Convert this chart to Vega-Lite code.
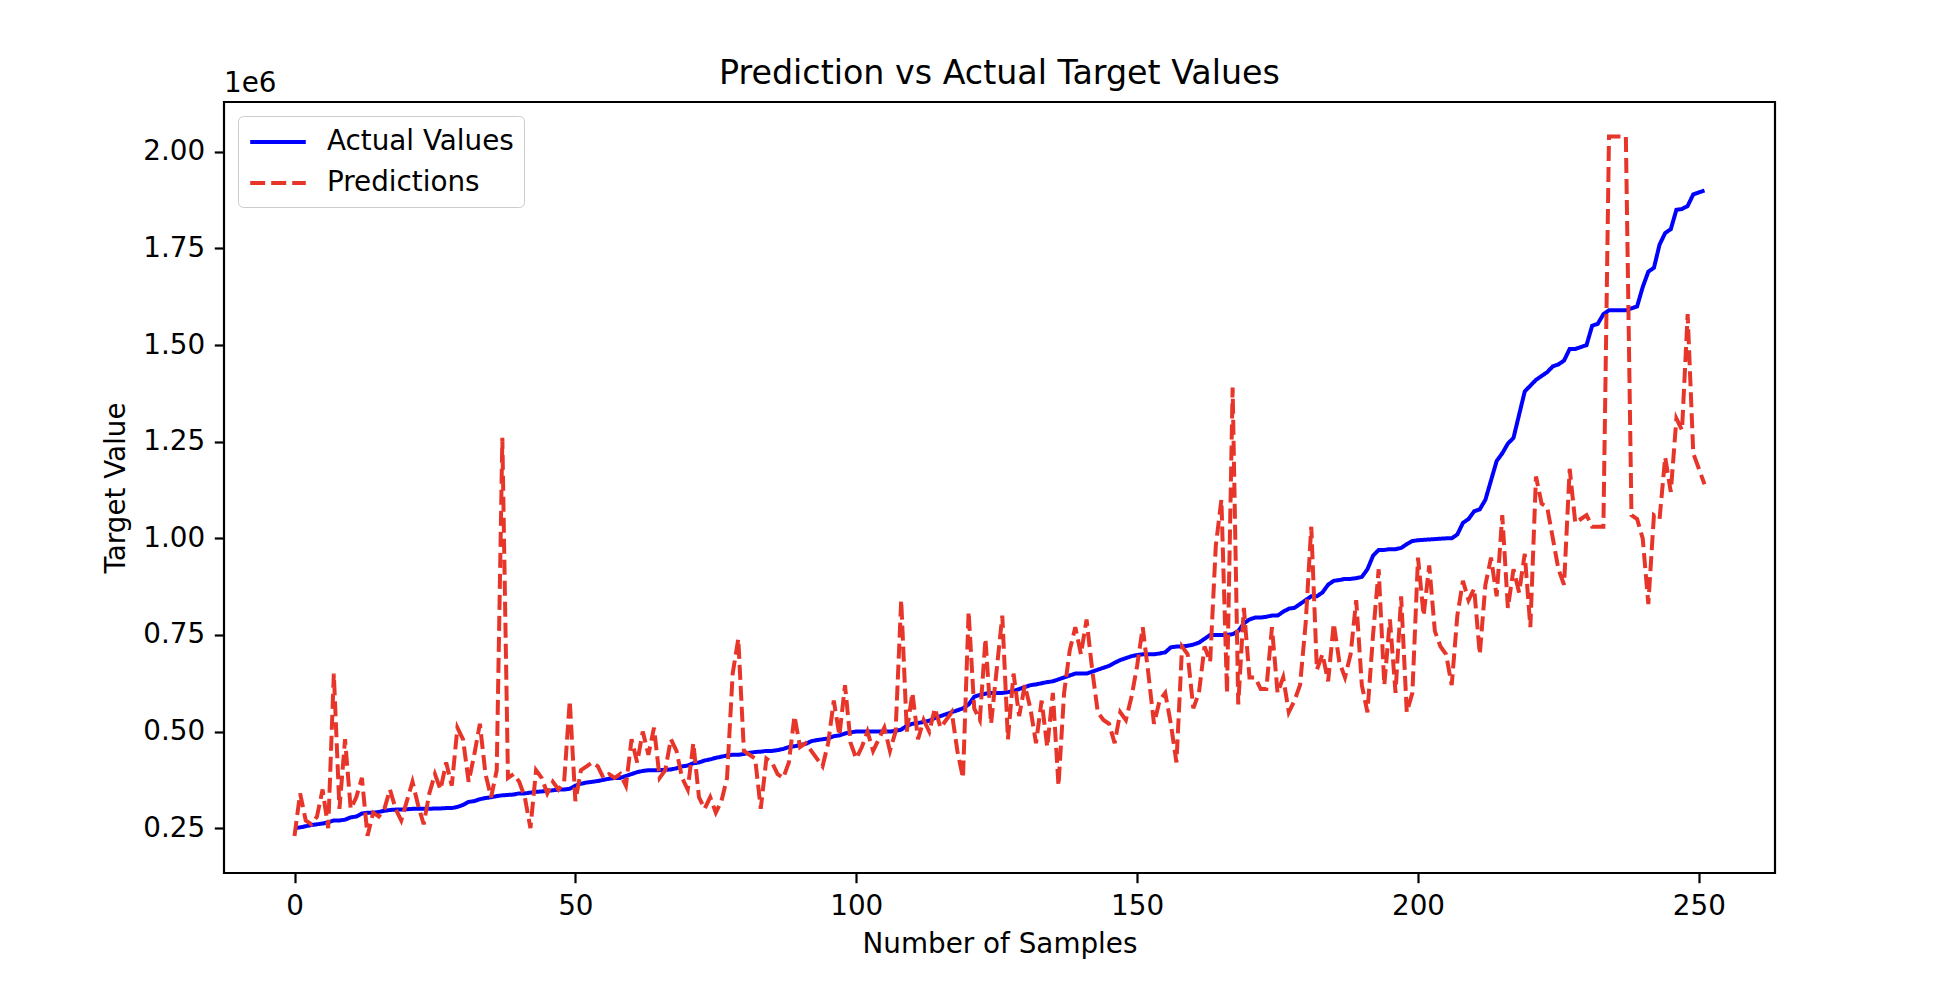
{
  "$schema": "https://vega.github.io/schema/vega-lite/v6.json",
  "autosize": {"type": "none"},
  "padding": {"left": 224, "top": 102, "right": 175, "bottom": 109},
  "width": 1551,
  "height": 771,
  "background": "white",
  "title": {"text": "Prediction vs Actual Target Values", "font": "DejaVu Sans", "fontSize": 33.3, "fontWeight": "normal", "color": "black", "frame": "group", "anchor": "middle", "offset": -21},
  "config": {
    "view": {"stroke": "black", "strokeWidth": 2.2},
    "font": "DejaVu Sans"
  },
  "layer": [
    {
      "data": {"values": [
{"i":0,"Actual Values":250000,"Predictions":230000},
{"i":1,"Actual Values":252000,"Predictions":340000},
{"i":2,"Actual Values":255000,"Predictions":270000},
{"i":3,"Actual Values":258000,"Predictions":260000},
{"i":4,"Actual Values":260000,"Predictions":280000},
{"i":5,"Actual Values":262000,"Predictions":350000},
{"i":6,"Actual Values":265000,"Predictions":250000},
{"i":7,"Actual Values":270000,"Predictions":650000},
{"i":8,"Actual Values":270000,"Predictions":300000},
{"i":9,"Actual Values":272000,"Predictions":480000},
{"i":10,"Actual Values":278000,"Predictions":300000},
{"i":11,"Actual Values":280000,"Predictions":330000},
{"i":12,"Actual Values":288000,"Predictions":380000},
{"i":13,"Actual Values":290000,"Predictions":230000},
{"i":14,"Actual Values":290000,"Predictions":290000},
{"i":15,"Actual Values":292000,"Predictions":280000},
{"i":16,"Actual Values":295000,"Predictions":300000},
{"i":17,"Actual Values":297000,"Predictions":350000},
{"i":18,"Actual Values":298000,"Predictions":300000},
{"i":19,"Actual Values":298000,"Predictions":270000},
{"i":20,"Actual Values":299000,"Predictions":320000},
{"i":21,"Actual Values":300000,"Predictions":370000},
{"i":22,"Actual Values":300000,"Predictions":310000},
{"i":23,"Actual Values":300000,"Predictions":260000},
{"i":24,"Actual Values":300000,"Predictions":340000},
{"i":25,"Actual Values":301000,"Predictions":390000},
{"i":26,"Actual Values":301000,"Predictions":350000},
{"i":27,"Actual Values":302000,"Predictions":420000},
{"i":28,"Actual Values":302000,"Predictions":360000},
{"i":29,"Actual Values":305000,"Predictions":510000},
{"i":30,"Actual Values":310000,"Predictions":480000},
{"i":31,"Actual Values":318000,"Predictions":370000},
{"i":32,"Actual Values":320000,"Predictions":440000},
{"i":33,"Actual Values":325000,"Predictions":520000},
{"i":34,"Actual Values":328000,"Predictions":390000},
{"i":35,"Actual Values":330000,"Predictions":330000},
{"i":36,"Actual Values":333000,"Predictions":400000},
{"i":37,"Actual Values":335000,"Predictions":1260000},
{"i":38,"Actual Values":336000,"Predictions":380000},
{"i":39,"Actual Values":337000,"Predictions":390000},
{"i":40,"Actual Values":340000,"Predictions":370000},
{"i":41,"Actual Values":340000,"Predictions":330000},
{"i":42,"Actual Values":342000,"Predictions":250000},
{"i":43,"Actual Values":344000,"Predictions":400000},
{"i":44,"Actual Values":345000,"Predictions":380000},
{"i":45,"Actual Values":347000,"Predictions":340000},
{"i":46,"Actual Values":348000,"Predictions":370000},
{"i":47,"Actual Values":350000,"Predictions":350000},
{"i":48,"Actual Values":350000,"Predictions":370000},
{"i":49,"Actual Values":352000,"Predictions":580000},
{"i":50,"Actual Values":360000,"Predictions":320000},
{"i":51,"Actual Values":365000,"Predictions":400000},
{"i":52,"Actual Values":368000,"Predictions":410000},
{"i":53,"Actual Values":370000,"Predictions":420000},
{"i":54,"Actual Values":372000,"Predictions":410000},
{"i":55,"Actual Values":375000,"Predictions":380000},
{"i":56,"Actual Values":378000,"Predictions":390000},
{"i":57,"Actual Values":380000,"Predictions":380000},
{"i":58,"Actual Values":380000,"Predictions":390000},
{"i":59,"Actual Values":385000,"Predictions":360000},
{"i":60,"Actual Values":390000,"Predictions":480000},
{"i":61,"Actual Values":395000,"Predictions":420000},
{"i":62,"Actual Values":398000,"Predictions":500000},
{"i":63,"Actual Values":400000,"Predictions":440000},
{"i":64,"Actual Values":400000,"Predictions":510000},
{"i":65,"Actual Values":400000,"Predictions":380000},
{"i":66,"Actual Values":401000,"Predictions":400000},
{"i":67,"Actual Values":402000,"Predictions":480000},
{"i":68,"Actual Values":405000,"Predictions":450000},
{"i":69,"Actual Values":410000,"Predictions":380000},
{"i":70,"Actual Values":412000,"Predictions":350000},
{"i":71,"Actual Values":418000,"Predictions":470000},
{"i":72,"Actual Values":420000,"Predictions":330000},
{"i":73,"Actual Values":425000,"Predictions":300000},
{"i":74,"Actual Values":428000,"Predictions":330000},
{"i":75,"Actual Values":432000,"Predictions":290000},
{"i":76,"Actual Values":435000,"Predictions":320000},
{"i":77,"Actual Values":438000,"Predictions":380000},
{"i":78,"Actual Values":440000,"Predictions":650000},
{"i":79,"Actual Values":440000,"Predictions":740000},
{"i":80,"Actual Values":442000,"Predictions":450000},
{"i":81,"Actual Values":445000,"Predictions":440000},
{"i":82,"Actual Values":447000,"Predictions":430000},
{"i":83,"Actual Values":448000,"Predictions":300000},
{"i":84,"Actual Values":450000,"Predictions":430000},
{"i":85,"Actual Values":450000,"Predictions":420000},
{"i":86,"Actual Values":452000,"Predictions":390000},
{"i":87,"Actual Values":455000,"Predictions":380000},
{"i":88,"Actual Values":460000,"Predictions":420000},
{"i":89,"Actual Values":462000,"Predictions":540000},
{"i":90,"Actual Values":465000,"Predictions":460000},
{"i":91,"Actual Values":468000,"Predictions":470000},
{"i":92,"Actual Values":475000,"Predictions":450000},
{"i":93,"Actual Values":478000,"Predictions":430000},
{"i":94,"Actual Values":480000,"Predictions":410000},
{"i":95,"Actual Values":482000,"Predictions":470000},
{"i":96,"Actual Values":488000,"Predictions":580000},
{"i":97,"Actual Values":490000,"Predictions":490000},
{"i":98,"Actual Values":495000,"Predictions":620000},
{"i":99,"Actual Values":498000,"Predictions":470000},
{"i":100,"Actual Values":500000,"Predictions":430000},
{"i":101,"Actual Values":500000,"Predictions":460000},
{"i":102,"Actual Values":500000,"Predictions":500000},
{"i":103,"Actual Values":500000,"Predictions":450000},
{"i":104,"Actual Values":500000,"Predictions":480000},
{"i":105,"Actual Values":500000,"Predictions":510000},
{"i":106,"Actual Values":500000,"Predictions":450000},
{"i":107,"Actual Values":502000,"Predictions":500000},
{"i":108,"Actual Values":505000,"Predictions":840000},
{"i":109,"Actual Values":515000,"Predictions":500000},
{"i":110,"Actual Values":520000,"Predictions":600000},
{"i":111,"Actual Values":522000,"Predictions":480000},
{"i":112,"Actual Values":525000,"Predictions":530000},
{"i":113,"Actual Values":528000,"Predictions":500000},
{"i":114,"Actual Values":535000,"Predictions":560000},
{"i":115,"Actual Values":540000,"Predictions":510000},
{"i":116,"Actual Values":545000,"Predictions":530000},
{"i":117,"Actual Values":550000,"Predictions":550000},
{"i":118,"Actual Values":555000,"Predictions":450000},
{"i":119,"Actual Values":560000,"Predictions":380000},
{"i":120,"Actual Values":570000,"Predictions":810000},
{"i":121,"Actual Values":590000,"Predictions":560000},
{"i":122,"Actual Values":595000,"Predictions":530000},
{"i":123,"Actual Values":598000,"Predictions":740000},
{"i":124,"Actual Values":600000,"Predictions":520000},
{"i":125,"Actual Values":600000,"Predictions":660000},
{"i":126,"Actual Values":600000,"Predictions":800000},
{"i":127,"Actual Values":602000,"Predictions":480000},
{"i":128,"Actual Values":605000,"Predictions":650000},
{"i":129,"Actual Values":610000,"Predictions":540000},
{"i":130,"Actual Values":615000,"Predictions":620000},
{"i":131,"Actual Values":620000,"Predictions":560000},
{"i":132,"Actual Values":622000,"Predictions":470000},
{"i":133,"Actual Values":625000,"Predictions":580000},
{"i":134,"Actual Values":628000,"Predictions":460000},
{"i":135,"Actual Values":630000,"Predictions":600000},
{"i":136,"Actual Values":635000,"Predictions":360000},
{"i":137,"Actual Values":640000,"Predictions":600000},
{"i":138,"Actual Values":645000,"Predictions":710000},
{"i":139,"Actual Values":650000,"Predictions":770000},
{"i":140,"Actual Values":650000,"Predictions":700000},
{"i":141,"Actual Values":650000,"Predictions":790000},
{"i":142,"Actual Values":655000,"Predictions":660000},
{"i":143,"Actual Values":660000,"Predictions":550000},
{"i":144,"Actual Values":665000,"Predictions":530000},
{"i":145,"Actual Values":670000,"Predictions":520000},
{"i":146,"Actual Values":678000,"Predictions":470000},
{"i":147,"Actual Values":685000,"Predictions":550000},
{"i":148,"Actual Values":690000,"Predictions":530000},
{"i":149,"Actual Values":695000,"Predictions":590000},
{"i":150,"Actual Values":698000,"Predictions":670000},
{"i":151,"Actual Values":700000,"Predictions":770000},
{"i":152,"Actual Values":700000,"Predictions":650000},
{"i":153,"Actual Values":700000,"Predictions":520000},
{"i":154,"Actual Values":702000,"Predictions":580000},
{"i":155,"Actual Values":705000,"Predictions":600000},
{"i":156,"Actual Values":718000,"Predictions":520000},
{"i":157,"Actual Values":720000,"Predictions":420000},
{"i":158,"Actual Values":720000,"Predictions":720000},
{"i":159,"Actual Values":722000,"Predictions":700000},
{"i":160,"Actual Values":725000,"Predictions":560000},
{"i":161,"Actual Values":730000,"Predictions":600000},
{"i":162,"Actual Values":740000,"Predictions":720000},
{"i":163,"Actual Values":750000,"Predictions":680000},
{"i":164,"Actual Values":750000,"Predictions":980000},
{"i":165,"Actual Values":750000,"Predictions":1100000},
{"i":166,"Actual Values":750000,"Predictions":600000},
{"i":167,"Actual Values":752000,"Predictions":1390000},
{"i":168,"Actual Values":760000,"Predictions":570000},
{"i":169,"Actual Values":780000,"Predictions":820000},
{"i":170,"Actual Values":790000,"Predictions":640000},
{"i":171,"Actual Values":795000,"Predictions":640000},
{"i":172,"Actual Values":795000,"Predictions":610000},
{"i":173,"Actual Values":797000,"Predictions":610000},
{"i":174,"Actual Values":800000,"Predictions":770000},
{"i":175,"Actual Values":800000,"Predictions":600000},
{"i":176,"Actual Values":810000,"Predictions":640000},
{"i":177,"Actual Values":818000,"Predictions":550000},
{"i":178,"Actual Values":820000,"Predictions":580000},
{"i":179,"Actual Values":830000,"Predictions":620000},
{"i":180,"Actual Values":840000,"Predictions":780000},
{"i":181,"Actual Values":850000,"Predictions":1030000},
{"i":182,"Actual Values":850000,"Predictions":660000},
{"i":183,"Actual Values":860000,"Predictions":700000},
{"i":184,"Actual Values":880000,"Predictions":630000},
{"i":185,"Actual Values":890000,"Predictions":780000},
{"i":186,"Actual Values":892000,"Predictions":680000},
{"i":187,"Actual Values":895000,"Predictions":640000},
{"i":188,"Actual Values":895000,"Predictions":700000},
{"i":189,"Actual Values":897000,"Predictions":840000},
{"i":190,"Actual Values":900000,"Predictions":620000},
{"i":191,"Actual Values":920000,"Predictions":550000},
{"i":192,"Actual Values":955000,"Predictions":750000},
{"i":193,"Actual Values":970000,"Predictions":920000},
{"i":194,"Actual Values":970000,"Predictions":620000},
{"i":195,"Actual Values":972000,"Predictions":790000},
{"i":196,"Actual Values":972000,"Predictions":600000},
{"i":197,"Actual Values":975000,"Predictions":850000},
{"i":198,"Actual Values":985000,"Predictions":550000},
{"i":199,"Actual Values":993000,"Predictions":600000},
{"i":200,"Actual Values":995000,"Predictions":950000},
{"i":201,"Actual Values":996000,"Predictions":800000},
{"i":202,"Actual Values":997000,"Predictions":930000},
{"i":203,"Actual Values":998000,"Predictions":760000},
{"i":204,"Actual Values":999000,"Predictions":720000},
{"i":205,"Actual Values":1000000,"Predictions":700000},
{"i":206,"Actual Values":1000000,"Predictions":620000},
{"i":207,"Actual Values":1010000,"Predictions":800000},
{"i":208,"Actual Values":1040000,"Predictions":890000},
{"i":209,"Actual Values":1050000,"Predictions":840000},
{"i":210,"Actual Values":1070000,"Predictions":870000},
{"i":211,"Actual Values":1075000,"Predictions":700000},
{"i":212,"Actual Values":1100000,"Predictions":880000},
{"i":213,"Actual Values":1150000,"Predictions":950000},
{"i":214,"Actual Values":1200000,"Predictions":850000},
{"i":215,"Actual Values":1220000,"Predictions":1060000},
{"i":216,"Actual Values":1245000,"Predictions":820000},
{"i":217,"Actual Values":1260000,"Predictions":920000},
{"i":218,"Actual Values":1320000,"Predictions":860000},
{"i":219,"Actual Values":1380000,"Predictions":960000},
{"i":220,"Actual Values":1395000,"Predictions":770000},
{"i":221,"Actual Values":1410000,"Predictions":1160000},
{"i":222,"Actual Values":1420000,"Predictions":1090000},
{"i":223,"Actual Values":1430000,"Predictions":1080000},
{"i":224,"Actual Values":1445000,"Predictions":1000000},
{"i":225,"Actual Values":1450000,"Predictions":920000},
{"i":226,"Actual Values":1460000,"Predictions":880000},
{"i":227,"Actual Values":1490000,"Predictions":1180000},
{"i":228,"Actual Values":1490000,"Predictions":1040000},
{"i":229,"Actual Values":1495000,"Predictions":1050000},
{"i":230,"Actual Values":1500000,"Predictions":1060000},
{"i":231,"Actual Values":1550000,"Predictions":1030000},
{"i":232,"Actual Values":1555000,"Predictions":1030000},
{"i":233,"Actual Values":1580000,"Predictions":1030000},
{"i":234,"Actual Values":1590000,"Predictions":2040000},
{"i":235,"Actual Values":1590000,"Predictions":2040000},
{"i":236,"Actual Values":1590000,"Predictions":2040000},
{"i":237,"Actual Values":1590000,"Predictions":2040000},
{"i":238,"Actual Values":1595000,"Predictions":1060000},
{"i":239,"Actual Values":1600000,"Predictions":1050000},
{"i":240,"Actual Values":1650000,"Predictions":1000000},
{"i":241,"Actual Values":1690000,"Predictions":830000},
{"i":242,"Actual Values":1700000,"Predictions":1060000},
{"i":243,"Actual Values":1760000,"Predictions":1050000},
{"i":244,"Actual Values":1790000,"Predictions":1210000},
{"i":245,"Actual Values":1800000,"Predictions":1120000},
{"i":246,"Actual Values":1850000,"Predictions":1310000},
{"i":247,"Actual Values":1852000,"Predictions":1280000},
{"i":248,"Actual Values":1860000,"Predictions":1580000},
{"i":249,"Actual Values":1890000,"Predictions":1220000},
{"i":250,"Actual Values":1895000,"Predictions":1180000},
{"i":251,"Actual Values":1900000,"Predictions":1140000}
      ]},
      "transform": [{"fold": ["Actual Values", "Predictions"], "as": ["series", "value"]}],
      "mark": {"type": "line", "strokeWidth": 4, "clip": true},
      "encoding": {
        "x": {"field": "i", "type": "quantitative",
          "scale": {"domain": [-12.55, 263.55], "nice": false, "zero": false},
          "axis": {"values": [0, 50, 100, 150, 200, 250], "format": "d", "title": "Number of Samples",
            "grid": false, "domain": false, "tickColor": "black", "tickWidth": 2.2, "tickSize": 9.7,
            "labelPadding": 9.7, "labelFont": "DejaVu Sans", "labelFontSize": 27.8, "labelColor": "black",
            "titleFont": "DejaVu Sans", "titleFontSize": 27.8, "titleFontWeight": "normal", "titleColor": "black", "titlePadding": 10}},
        "y": {"field": "value", "type": "quantitative",
          "scale": {"domain": [134000, 2129000], "nice": false, "zero": false},
          "axis": {"values": [250000, 500000, 750000, 1000000, 1250000, 1500000, 1750000, 2000000],
            "labelExpr": "format(datum.value / 1000000, '.2f')", "title": "Target Value",
            "grid": false, "domain": false, "tickColor": "black", "tickWidth": 2.2, "tickSize": 9.7,
            "labelPadding": 9.7, "labelFont": "DejaVu Sans", "labelFontSize": 27.8, "labelColor": "black",
            "titleFont": "DejaVu Sans", "titleFontSize": 27.8, "titleFontWeight": "normal", "titleColor": "black", "titlePadding": 12}},
        "color": {"field": "series", "type": "nominal",
          "scale": {"domain": ["Actual Values", "Predictions"], "range": ["#0000ff", "#e8352a"]},
          "legend": {"title": null, "orient": "top-left", "offset": 14, "padding": 10,
            "strokeColor": "#cccccc", "fillColor": "white", "cornerRadius": 5,
            "symbolType": "M-2,0H2", "symbolSize": 773, "symbolStrokeWidth": 4, "symbolOffset": 14,
            "labelFont": "DejaVu Sans", "labelFontSize": 27.8, "labelColor": "black", "labelOffset": 33, "labelLimit": 500, "rowPadding": 11}},
        "strokeDash": {"field": "series", "type": "nominal",
          "scale": {"domain": ["Actual Values", "Predictions"], "range": [[1, 0], [15, 6]]},
          "legend": {"title": null, "orient": "top-left", "offset": 14, "padding": 10,
            "strokeColor": "#cccccc", "fillColor": "white", "cornerRadius": 5,
            "symbolType": "M-2,0H2", "symbolSize": 773, "symbolStrokeWidth": 4, "symbolOffset": 14,
            "labelFont": "DejaVu Sans", "labelFontSize": 27.8, "labelColor": "black", "labelOffset": 33, "labelLimit": 500, "rowPadding": 11}}
      }
    },
    {
      "data": {"values": [{"label": "1e6", "x": -12.55, "y": 2129000}]},
      "mark": {"type": "text", "align": "left", "baseline": "bottom", "dy": -4, "font": "DejaVu Sans", "fontSize": 27.8, "color": "black"},
      "encoding": {
        "x": {"field": "x", "type": "quantitative"},
        "y": {"field": "y", "type": "quantitative"},
        "text": {"field": "label"}
      }
    }
  ]
}
